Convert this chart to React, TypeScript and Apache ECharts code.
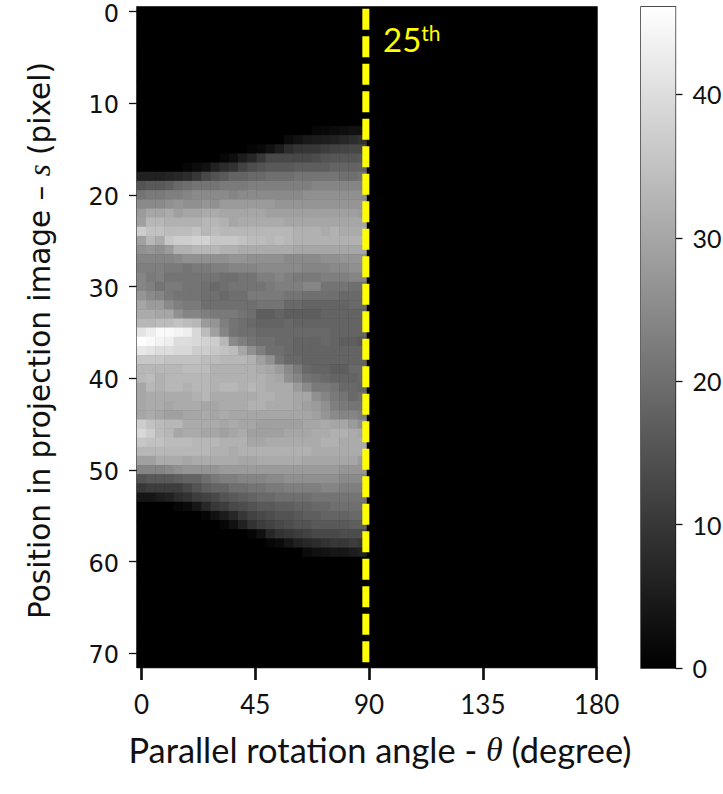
import React, { useEffect, useRef } from "react";
import * as echarts from "echarts";

const FIRST_ROW = 13;
const COLUMN_COUNT = 50;
const ROW_COUNT = 72;
const VALUE_MAX = 46.1;

const sinogramRows: number[][] = [
  [0,0,0,0,0,0,0,0,0,0,0,0,0,0,0,0,0,0,0,1,1.5,2,2.5,3,3],
  [0,0,0,0,0,0,0,0,0,0,0,0,0,0,0,0,2,3,4.5,5,5.5,6,7,8,9],
  [0,0,0,0,0,0,0,0,0,0,0,0,1,1.5,3,5,8,9.5,10,10,11,12,12.5,13,13],
  [0,0,0,0,0,0,0,0,0,1,2.5,5,7,10,13,13,13,13,13,14,15,15.5,15.5,15.5,16],
  [0,0,0,0,0,1,2,3,6,8,9,12,14,15,16,16,16,17,17,17,17,18,18,18,18],
  [6,6,6,6.5,7,8,10,13,15,16,18,18,19,19,20,20,20,21,21,21,21,21,20,20,21],
  [15,16,16,17,19,20,21,21,21,22,22,22,23,23,23,23,23,23,23,24,24,24,24,24,24],
  [21,22,22,23,23,24,25,25,25,25,24,25,25,25,25,25,25,25,26,26,26,26,26,26,26],
  [25,25,25,26,27,26,26,27,26,28,28,28,28,28,28,27,27,27,27,27,27,27,27,27,27],
  [28,30,30,31,29,30,30,31,31,30,30,30,30,30,29,29,29,29,29,29,29,29,29,29,28],
  [29,33,33,32,32,32,32,33,33,32,30,31,31,31,31,31,30,30,30,30,30,30,30,30,30],
  [37,35,35,34,34,34,35,33,34,33,33,33,33,33,33,33,33,32,32,32,31,32,31,31,31],
  [29,33,31,36,37,37,38,38,36,36,36,35,34,34,33,34,33,32,32,32,32,32,32,32,32],
  [26,27,26,28,32,32,33,33,33,32,32,31,31,31,31,31,31,30,30,30,30,30,30,30,30],
  [24,24,24,24,25,26,26,26,26,26,27,27,26,26,26,26,25,25,25,25,26,26,27,27,27],
  [23,23,23,22,22,21,22,22,23,23,24,24,24,25,25,25,25,25,24,24,24,25,25,26,26],
  [24,22,23,21,21,21,21,21,21,20,20,21,21,23,23,24,23,22,22,22,23,23,23,24,24],
  [24,23,21,22,22,21,21,20,19,20,21,21,21,21,22,23,23,23,24,24,21,21,21,20,20],
  [27,25,24,22,21,21,21,20,20,19,20,20,22,22,22,22,21,21,20,20,20,20,19,19,19],
  [30,28,28,25,23,22,22,20,20,20,20,20,20,21,21,21,19,19,18,18,18,18,18,19,19],
  [31,31,30,30,26,24,24,23,22,22,22,21,20,17,17,18,17,17,17,17,18,18,18,18,18],
  [33,33,34,34,35,34,33,28,27,23,21,20,19,18,18,18,19,18,18,18,18,18,18,18,18],
  [41,43,45,45,44,43,39,34,29,24,21,20,20,19,19,19,19,19,19,19,19,18,18,18,18],
  [46,45,44,43,40,40,39,38,37,33,25,23,21,20,20,19,19,18,18,18,19,18,17,17,16],
  [42,41,40,40,39,39,37,37,36,35,34,30,26,23,20,20,19,18,18,18,18,18,18,18,18],
  [36,36,36,35,35,35,35,34,34,33,33,33,32,29,26,21,19,19,18,18,18,18,18,18,18],
  [33,33,33,33,33,34,34,34,32,32,32,32,32,31,30,28,25,22,19,18,18,17,17,19,19],
  [33,34,32,33,33,33,33,33,32,32,32,32,32,32,31,30,26,24,21,20,19,18,18,18,19],
  [30,33,32,33,33,32,33,33,32,33,33,32,33,32,31,31,31,28,25,22,22,21,19,19,18],
  [30,31,31,31,31,31,32,33,31,31,31,31,31,32,32,31,31,30,30,26,24,22,21,19,20],
  [30,31,31,30,31,31,31,30,30,31,31,31,32,32,31,31,31,30,29,28,26,23,22,21,21],
  [30,31,30,29,29,30,30,31,30,31,30,30,30,30,30,30,30,30,30,29,27,25,24,24,23],
  [37,35,34,33,33,31,31,31,31,30,31,30,30,29,29,29,29,29,30,30,31,30,30,28,26],
  [39,37,34,33,30,31,31,30,30,29,30,31,29,29,29,29,30,30,30,31,31,32,32,31,30],
  [36,35,35,34,34,34,33,33,33,32,32,32,30,30,31,31,31,31,31,31,32,32,31,31,31],
  [33,33,33,33,33,33,33,33,32,32,31,32,32,32,32,32,32,32,32,31,31,31,31,31,31],
  [29,29,31,31,31,30,31,31,31,31,31,30,30,31,31,31,31,31,30,30,30,30,30,30,28],
  [24,24,24,25,26,27,27,27,27,28,28,28,28,28,28,28,28,28,28,28,28,28,27,27,27],
  [15,16,16,16,17,18,18,20,22,23,23,24,24,24,25,25,26,26,26,26,26,26,25,25,25],
  [10,11,11,11,11,13,15,17,18,18,20,20,21,21,22,22,23,23,23,23,24,24,23,23,23],
  [4,4,5,6,8,9,11,12,13,15,16,17,18,19,19,20,20,20,20,21,21,21,21,21,21],
  [0,0,0,0,1,2,4,7,10,11,13,14,15,16,16,17,17,18,18,19,19,20,20,20,20],
  [0,0,0,0,0,0,0,1,3,5,7,10,12,13,14,15,15,16,17,17,18,18,18,19,19],
  [0,0,0,0,0,0,0,0,0,1,3,6,9,11,12,13,14,15,15,16,16,16,16,17,17],
  [0,0,0,0,0,0,0,0,0,0,0,0,1,3,7,9,10,11,12,13,13,13,14,14,14],
  [0,0,0,0,0,0,0,0,0,0,0,0,0,0,1,2,4,6,7,8,9,10,10,11,10],
  [0,0,0,0,0,0,0,0,0,0,0,0,0,0,0,0,0,0,2,3,3.5,4,4,5,6],
];

const angleTicks = [0, 45, 90, 135, 180];
const positionTicks = [0, 10, 20, 30, 40, 50, 60, 70];
const colorbarTicks = [0, 10, 20, 30, 40];
const markerAngle = 88.7;
const markerSpan = [-0.3, 70.97];
const markerLabel = "{n|25}{s|th}";

const LABEL_FONT = "Lato";
const AXIS_FONT = "DejaVu Sans";
const INK = "#111111";

const columnNames = Array.from({ length: COLUMN_COUNT }, (_, i) => String(i));
const rowNames = Array.from({ length: ROW_COUNT }, (_, i) => String(i));

function buildCells(): number[][] {
  const cells: number[][] = [];
  for (let r = 0; r < ROW_COUNT; r++) {
    const row = sinogramRows[r - FIRST_ROW] || [];
    for (let c = 0; c < COLUMN_COUNT; c++) {
      cells.push([c, r, row[c] || 0]);
    }
  }
  return cells;
}

export default function App() {
  const ref = useRef<HTMLDivElement | null>(null);

  useEffect(() => {
    if (!ref.current) return;
    const chart = echarts.init(ref.current, undefined, { renderer: "svg" });
    chart.setOption({
      animation: false,
      backgroundColor: "#ffffff",
      grid: [
        { left: 137, top: 7, width: 460, height: 660, show: true, backgroundColor: "#000", borderColor: INK, borderWidth: 1.3, containLabel: false, outerBoundsMode: "none" },
        { left: 641, top: 7, width: 34.5, height: 661, show: true, borderColor: INK, borderWidth: 1.3, containLabel: false, outerBoundsMode: "none" },
      ],
      visualMap: {
        show: false,
        type: "continuous",
        seriesIndex: 0,
        min: 0,
        max: VALUE_MAX,
        inRange: { color: ["#000000", "#ffffff"] },
      },
      xAxis: [
        { type: "category", gridIndex: 0, data: columnNames, show: false },
        {
          type: "value",
          gridIndex: 0,
          position: "bottom",
          min: -1.82,
          max: 180.15,
          splitLine: { show: false },
          axisLine: { show: true, onZero: false, lineStyle: { color: INK, width: 1.3 } },
          axisTick: { show: true, customValues: angleTicks, length: 13, lineStyle: { color: INK, width: 2.7 } },
          axisLabel: {
            customValues: angleTicks,
            margin: 24,
            fontFamily: LABEL_FONT,
            fontSize: 26,
            color: INK,
          },
          name: "{a|Parallel rotation angle - }{t|θ}{a| (degree)}",
          nameLocation: "middle",
          nameGap: 65,
          nameTextStyle: {
            padding: [0, 0, 0, 26],
            rich: {
              a: { fontFamily: LABEL_FONT, fontSize: 34.4, color: INK },
              t: { fontFamily: "Liberation Serif", fontStyle: "italic", fontSize: 34, color: INK },
            },
          },
        },
        { type: "category", gridIndex: 1, data: ["bar"], show: false },
      ],
      yAxis: [
        { type: "category", gridIndex: 0, data: rowNames, inverse: true, show: false },
        {
          type: "value",
          gridIndex: 0,
          position: "left",
          inverse: true,
          min: -0.5,
          max: 71.5,
          splitLine: { show: false },
          axisLine: { show: true, onZero: false, lineStyle: { color: INK, width: 1.3 } },
          axisTick: { show: true, customValues: positionTicks, length: 8, lineStyle: { color: INK, width: 1.3 } },
          axisLabel: {
            customValues: positionTicks,
            margin: 18,
            formatter: "{v|{value}}",
            rich: {
              v: { fontFamily: AXIS_FONT, fontSize: 24, lineHeight: 24, color: INK, padding: [4, 0, 0, 0] },
            },
          },
          name: "{a|Position in projection image – }{s|s}{a| (pixel)}",
          nameLocation: "middle",
          nameRotate: 90,
          nameGap: 82,
          nameTextStyle: {
            padding: [0, 7, 0, 0],
            rich: {
              a: { fontFamily: AXIS_FONT, fontSize: 29.5, color: INK },
              s: { fontFamily: "Liberation Serif", fontStyle: "italic", fontSize: 31, color: INK },
            },
          },
        },
        {
          type: "value",
          gridIndex: 1,
          position: "right",
          min: 0,
          max: VALUE_MAX,
          splitLine: { show: false },
          axisLine: { show: false },
          axisTick: { show: true, customValues: colorbarTicks, length: 7, lineStyle: { color: INK, width: 1.3 } },
          axisLabel: {
            customValues: colorbarTicks,
            margin: 17,
            fontFamily: LABEL_FONT,
            fontSize: 25,
            color: INK,
          },
        },
      ],
      series: [
        {
          type: "heatmap",
          xAxisIndex: 0,
          yAxisIndex: 0,
          data: buildCells(),
          progressive: 0,
          silent: true,
          emphasis: { disabled: true },
        },
        {
          type: "line",
          xAxisIndex: 1,
          yAxisIndex: 1,
          z: 5,
          silent: true,
          showSymbol: false,
          symbol: "none",
          data: [
            [markerAngle, markerSpan[0]],
            [markerAngle, markerSpan[1]],
          ],
          lineStyle: { color: "#ffff00", width: 7, type: [21, 6.5], cap: "butt" },
        },
        {
          type: "bar",
          xAxisIndex: 2,
          yAxisIndex: 2,
          data: [VALUE_MAX],
          barWidth: "100%",
          silent: true,
          itemStyle: {
            color: new echarts.graphic.LinearGradient(0, 0, 0, 1, [
              { offset: 0, color: "#ffffff" },
              { offset: 1, color: "#000000" },
            ]),
          },
        },
      ],
      graphic: [
        {
          type: "text",
          x: 383,
          y: 22,
          z: 10,
          style: {
            text: markerLabel,
            rich: {
              n: { fontFamily: LABEL_FONT, fontSize: 33, fill: "#ffff00", verticalAlign: "bottom" },
              s: { fontFamily: LABEL_FONT, fontSize: 21, fill: "#ffff00", verticalAlign: "top" },
            },
          },
        },
      ],
    });
    return () => chart.dispose();
  }, []);

  return (
    <div
      ref={ref}
      style={{ position: "fixed", left: 0, top: 0, width: 723, height: 794, background: "#fff" }}
    />
  );
}
